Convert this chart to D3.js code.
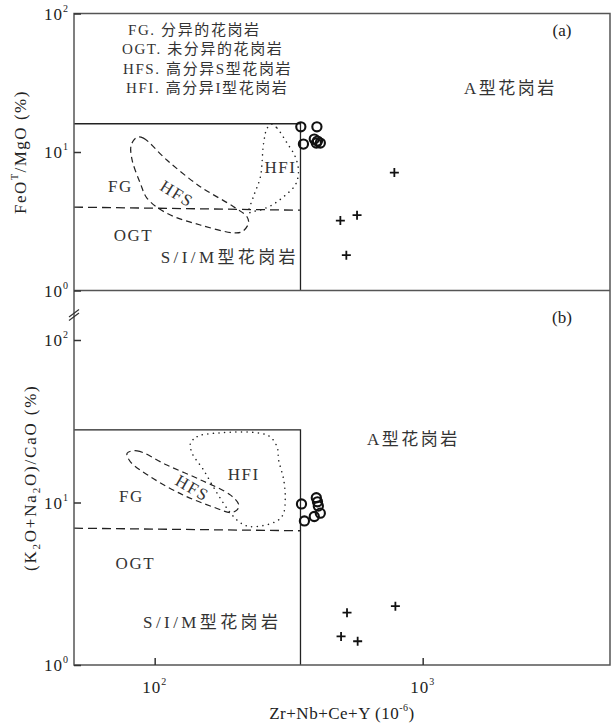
<!DOCTYPE html>
<html>
<head>
<meta charset="utf-8">
<script src="https://cdn.jsdelivr.net/npm/d3@7"></script>
<style>
body { margin: 0; background: #fff; }
svg { font-family: "Liberation Serif", "Noto Sans CJK SC", serif; }
</style>
</head>
<body>
<div id="chart"></div>
<script>
// Set width and height
var svgWidth = 615;
var svgHeight = 727;

// Tick values (log axes)
var xTicks = [100, 1000];
var yTicks = [1, 10, 100];

// Panel (a): FeOT/MgO vs Zr+Nb+Ce+Y
var aCircles = [[351, 15.2], [403, 15.2], [359, 11.4], [394, 12.4], [405, 12.0], [415, 11.6], [401, 11.6]];
var aCrosses = [[784, 7.1], [569, 3.5], [493, 3.2], [519, 1.8]];
var aBox = [[50, 16], [350, 16], [350, 1]];
var aFgOgt = [[50, 4.0], [350, 3.8]];
var aHFS = [[86, 12.8], [90.8, 12.6], [111, 8.75], [148, 5.62], [197, 4.03], [221, 3.41], [224, 3.06],
    [212, 2.66], [197, 2.61], [148, 2.97], [111, 3.61], [93.7, 4.63], [88.4, 5.94], [82.4, 8.75], [81.7, 11.2]];
var aHFI = [[274, 15.9], [286, 14.9], [312, 11.6], [335, 9.2], [344, 7.2], [335, 5.8], [303, 4.76],
    [274, 4.14], [248, 3.81], [231, 3.71], [224, 3.63], [233.5, 4.76], [248, 6.63], [255, 11.6], [263, 14.9]];

// Panel (b): (K2O+Na2O)/CaO vs Zr+Nb+Ce+Y
var bCircles = [[353, 9.8], [401, 10.7], [405, 10.1], [408, 9.5], [362, 7.7], [394, 8.2], [415, 8.6]];
var bCrosses = [[522, 2.1], [791, 2.3], [496, 1.5], [572, 1.4]];
var bBox = [[50, 28], [350, 28], [350, 1]];
var bFgOgt = [[50, 6.95], [350, 6.7]];
var bHFS = [[78.9, 20.1], [86, 20.8], [111, 17.0], [148, 13.8], [192, 11.1], [206, 9.66], [203, 9.0],
    [192, 8.67], [166, 9.36], [128, 11.1], [96.4, 14.4], [81.2, 17.8]];
var bHFI = [[136, 23.2], [144, 25.4], [157, 26.4], [263, 26.0], [286, 22.1], [290, 18.3], [303, 13.8],
    [307, 10.4], [301, 8.4], [282, 7.6], [227.5, 7.1], [209, 7.5], [192, 8.6], [171, 11.4], [152, 15.9], [138, 20.1]];

// Legend and field names
var legendItems = [["FG. ", "分异的花岗岩"], ["OGT. ", "未分异的花岗岩"], ["HFS. ", "高分异S型花岗岩"], ["HFI. ", "高分异I型花岗岩"]];

// Plot frame
var plotLeft = 74, plotRight = 610, plotTop = 13.5, plotMid = 290.5, plotBottom = 665;

var svg = d3.select("#chart").append("svg")
    .attr("width", svgWidth)
    .attr("height", svgHeight);

// Scales
var x = d3.scaleLog().domain([50, 5000]).range([plotLeft, plotRight]);
var yA = d3.scaleLog().domain([1, 100]).range([plotMid, plotTop]);
var yB = d3.scaleLog().domain([1, 100]).range([plotBottom, 340]);

var ink = "#222";
var frame = "#555";

// Draw one panel's fields and samples
function drawPanel(yScale, circles, crosses, box, fgOgt, hfs, hfi) {
    var line = d3.line().x(d => x(d[0])).y(d => yScale(d[1]));
    var loop = d3.line().x(d => x(d[0])).y(d => yScale(d[1])).curve(d3.curveCatmullRomClosed);
    var g = svg.append("g");

    g.append("path").attr("d", line(box))
        .attr("fill", "none").attr("stroke", ink).attr("stroke-width", 1.3);
    g.append("path").attr("d", line(fgOgt))
        .attr("fill", "none").attr("stroke", ink).attr("stroke-width", 1.3)
        .attr("stroke-dasharray", "9,5");
    g.append("path").attr("d", loop(hfs))
        .attr("fill", "none").attr("stroke", ink).attr("stroke-width", 1.2)
        .attr("stroke-dasharray", "6,4");
    g.append("path").attr("d", loop(hfi))
        .attr("fill", "none").attr("stroke", ink).attr("stroke-width", 1.5)
        .attr("stroke-linecap", "round")
        .attr("stroke-dasharray", "0.1,5.5");

    g.selectAll(".circ").data(circles).enter().append("circle")
        .attr("cx", d => x(d[0]))
        .attr("cy", d => yScale(d[1]))
        .attr("r", 4.6)
        .attr("fill", "none")
        .attr("stroke", "#111")
        .attr("stroke-width", 2.1);

    g.selectAll(".cross").data(crosses).enter().append("path")
        .attr("transform", d => `translate(${x(d[0])},${yScale(d[1])})`)
        .attr("d", "M-4.5,0H4.5M0,-4.5V4.5")
        .attr("stroke", "#111")
        .attr("stroke-width", 1.8);
    return g;
}

drawPanel(yA, aCircles, aCrosses, aBox, aFgOgt, aHFS, aHFI);
drawPanel(yB, bCircles, bCrosses, bBox, bFgOgt, bHFS, bHFI);

// Frame lines
var fr = svg.append("g").attr("stroke", frame).attr("stroke-width", 1.5).attr("fill", "none");
fr.append("rect").attr("x", plotLeft).attr("y", plotTop)
    .attr("width", plotRight - plotLeft).attr("height", plotBottom - plotTop);
fr.append("line").attr("x1", plotLeft).attr("x2", plotRight).attr("y1", plotMid).attr("y2", plotMid);

// Axis break marks
var brk = svg.append("g").attr("stroke", "#333").attr("stroke-width", 1.2);
brk.append("line").attr("x1", plotLeft - 5).attr("y1", 317).attr("x2", plotLeft + 5).attr("y2", 309.5);
brk.append("line").attr("x1", plotLeft - 5).attr("y1", 320.5).attr("x2", plotLeft + 5).attr("y2", 313);

// Ticks and tick labels
function yAxis(yScale) {
    var axis = d3.axisLeft(yScale).tickValues(yTicks).tickSize(-7).tickFormat("");
    var g = svg.append("g").attr("transform", `translate(${plotLeft},0)`).call(axis);
    g.select(".domain").remove();
    g.selectAll(".tick line").attr("stroke", "#333").attr("stroke-width", 1.5);
    yTicks.forEach(function(v) {
        var t = svg.append("text")
            .attr("x", 69).attr("y", yScale(v) + 6)
            .attr("text-anchor", "end").attr("font-size", 17)
            .attr("letter-spacing", 1).attr("fill", ink)
            .text("10");
        t.append("tspan").attr("dy", -8).attr("font-size", 10).text(Math.round(Math.log10(v)));
    });
}
yAxis(yA);
yAxis(yB);

var xAxis = d3.axisBottom(x).tickValues(xTicks).tickSize(-7).tickFormat("");
var xg = svg.append("g").attr("transform", `translate(0,${plotBottom})`).call(xAxis);
xg.select(".domain").remove();
xg.selectAll(".tick line").attr("stroke", "#333").attr("stroke-width", 1.5);
xTicks.forEach(function(v) {
    var t = svg.append("text")
        .attr("x", x(v)).attr("y", 693)
        .attr("text-anchor", "middle").attr("font-size", 17)
        .attr("letter-spacing", 1).attr("fill", ink)
        .text("10");
    t.append("tspan").attr("dy", -8).attr("font-size", 10).text(Math.round(Math.log10(v)));
});

// Axis titles
var xt = svg.append("text").attr("x", (plotLeft + plotRight) / 2).attr("y", 719)
    .attr("text-anchor", "middle").attr("font-size", 17).attr("letter-spacing", 0.5).attr("fill", ink)
    .text("Zr+Nb+Ce+Y (10");
xt.append("tspan").attr("dy", -8).attr("font-size", 10).text("-6");
xt.append("tspan").attr("dy", 8).text(")");

var yt1 = svg.append("text").attr("transform", `translate(26,${(plotTop + plotMid) / 2}) rotate(-90)`)
    .attr("text-anchor", "middle").attr("font-size", 17).attr("letter-spacing", 1.5).attr("fill", ink)
    .text("FeO");
yt1.append("tspan").attr("dy", -8).attr("font-size", 10).text("T");
yt1.append("tspan").attr("dy", 8).text("/MgO (%)");

var yt2 = svg.append("text").attr("transform", `translate(36,${(plotMid + plotBottom) / 2}) rotate(-90)`)
    .attr("text-anchor", "middle").attr("font-size", 17).attr("letter-spacing", 1.8).attr("fill", ink)
    .text("(K");
yt2.append("tspan").attr("dy", 4).attr("font-size", 11).text("2");
yt2.append("tspan").attr("dy", -4).text("O+Na");
yt2.append("tspan").attr("dy", 4).attr("font-size", 11).text("2");
yt2.append("tspan").attr("dy", -4).text("O)/CaO (%)");

// Legend (panel a)
var legendX = [128, 122, 123, 126];
legendItems.forEach(function(d, i) {
    var t = svg.append("text")
        .attr("x", legendX[i]).attr("y", 35 + i * 19.3)
        .attr("font-size", 15).attr("letter-spacing", 1.6).attr("fill", "#333")
        .text(d[0]);
    t.append("tspan").text(d[1]);
});

// Field labels, placed in data coordinates
function label(yScale, px, py, text, ls, angle) {
    var t = svg.append("text")
        .attr("font-size", 17).attr("letter-spacing", ls).attr("fill", "#333")
        .attr("text-anchor", "middle")
        .text(text);
    if (angle) {
        t.attr("dominant-baseline", "central")
            .attr("transform", `translate(${x(px)},${yScale(py)}) rotate(${angle})`);
    } else {
        t.attr("x", x(px)).attr("y", yScale(py));
    }
    return t;
}
label(yA, 74.5, 5.17, "FG", 1.5);
label(yA, 121, 4.98, "HFS", 1.5, 32);
label(yA, 294.5, 7.05, "HFI", 1.5);
label(yA, 83.3, 2.29, "OGT", 1.5);
label(yA, 190.8, 1.58, "S/I/M型花岗岩", 3.4);
label(yA, 2125, 26.2, "A型花岗岩", 2.5);

label(yB, 81.9, 10.1, "FG", 1.5);
label(yB, 138, 12.24, "HFS", 1.5, 30);
label(yB, 215, 13.77, "HFI", 1.5);
label(yB, 84.7, 3.91, "OGT", 1.5);
label(yB, 164, 1.70, "S/I/M型花岗岩", 3.4);
label(yB, 923, 22.6, "A型花岗岩", 2.5);

// Panel letters
svg.append("text").attr("x", 562).attr("y", 36).attr("text-anchor", "middle")
    .attr("font-size", 17).attr("fill", ink).text("(a)");
svg.append("text").attr("x", 562).attr("y", 323).attr("text-anchor", "middle")
    .attr("font-size", 17).attr("fill", ink).text("(b)");
</script>
</body>
</html>
